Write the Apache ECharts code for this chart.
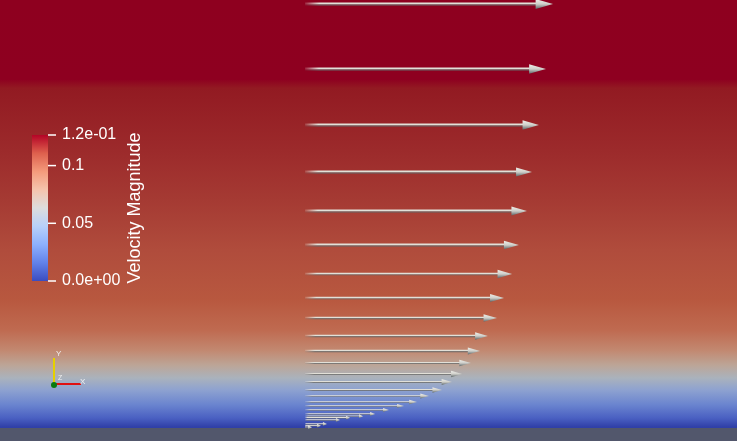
<!DOCTYPE html>
<html>
<head>
<meta charset="utf-8">
<script src="https://cdn.jsdelivr.net/npm/echarts@6/dist/echarts.min.js"></script>
<style>html,body{margin:0;padding:0;background:#8e0020;}#c{width:737px;height:441px;}</style>
</head>
<body>
<div id="c"></div>
<script>
// Height above the wall (px-units of the scene) of each velocity glyph
const heights = [424, 359, 303, 256, 217, 183, 154, 130, 110, 92, 77, 65, 54, 46, 38, 32, 26, 22, 18, 14, 11.7, 10.3, 8, 4, 2.3, 0.7];
// Velocity magnitude of each glyph (arrow length)
const speeds = [0.1200, 0.1166, 0.1132, 0.1098, 0.1074, 0.1035, 0.1002, 0.0963, 0.0929, 0.0885, 0.0847, 0.0803, 0.0760, 0.0711, 0.0663, 0.0600, 0.0542, 0.0479, 0.0406, 0.0339, 0.0281, 0.0218, 0.0169, 0.0106, 0.0077, 0.0034];
// Colour-bar ticks
const barTickValues = [0, 0.05, 0.1, 0.1265];
const barTickLabels = ['0.0e+00', '0.05', '0.1', '1.2e-01'];
const barTitle = 'Velocity Magnitude';

const FONT = 'Liberation Sans, Arial, sans-serif';
const chart = echarts.init(document.getElementById('c'), null, {renderer: 'canvas'});

const bgGrad = new echarts.graphic.LinearGradient(0, 0, 0, 1, [
  {offset: 0.000, color: '#8e001f'},
  {offset: 0.180, color: '#8e0020'},
  {offset: 0.200, color: '#921a22'},
  {offset: 0.340, color: '#9c2a2b'},
  {offset: 0.453, color: '#a53a33'},
  {offset: 0.567, color: '#b04c3c'},
  {offset: 0.680, color: '#b8583f'},
  {offset: 0.748, color: '#bf6a50'},
  {offset: 0.794, color: '#c28870'},
  {offset: 0.828, color: '#bca597'},
  {offset: 0.857, color: '#aab2bc'},
  {offset: 0.884, color: '#8ea2d0'},
  {offset: 0.918, color: '#6a84cf'},
  {offset: 0.948, color: '#4a60c2'},
  {offset: 0.968, color: '#3040a8'},
  {offset: 1.000, color: '#3040a8'}
]);

const coolwarm = new echarts.graphic.LinearGradient(0, 1, 0, 0, [
  {offset: 0.0, color: 'rgb(59,76,192)'},
  {offset: 0.125, color: 'rgb(98,130,234)'},
  {offset: 0.25, color: 'rgb(141,176,254)'},
  {offset: 0.375, color: 'rgb(184,208,249)'},
  {offset: 0.5, color: 'rgb(221,221,221)'},
  {offset: 0.625, color: 'rgb(245,196,173)'},
  {offset: 0.75, color: 'rgb(244,154,123)'},
  {offset: 0.875, color: 'rgb(222,96,77)'},
  {offset: 1.0, color: 'rgb(180,4,38)'}
]);

const data = speeds.map((v, i) => [v, heights[i]]);

function fade(c0, c1) {
  return new echarts.graphic.LinearGradient(0, 0, 1, 0, [
    {offset: 0, color: c0},
    {offset: 0.06, color: c1},
    {offset: 1, color: c1}
  ]);
}

function renderArrow(params, api) {
  const v = api.value(0), h = api.value(1);
  const p0 = api.coord([0, h]);
  const p1 = api.coord([v, h]);
  const L = p1[0] - p0[0];
  const headLen = Math.max(4, L * 0.07);
  const headHalf = Math.max(2, L * 0.02);
  const shaftH = Math.max(1.5, L * 0.013);
  const y = p0[1];
  const sw = Math.max(0, L - headLen * 0.6);
  return {
    type: 'group',
    children: [
      {
        type: 'rect',
        shape: {x: p0[0], y: y - shaftH / 2, width: sw, height: shaftH * 0.65},
        style: {fill: fade('rgba(236,235,228,0.15)', 'rgba(226,224,216,1)')}
      },
      {
        type: 'rect',
        shape: {x: p0[0], y: y - shaftH / 2 + shaftH * 0.65, width: sw, height: shaftH * 0.35},
        style: {fill: fade('rgba(110,112,112,0.15)', 'rgba(100,102,102,1)')}
      },
      {
        type: 'polygon',
        shape: {points: [[p1[0] - headLen, y - headHalf], [p1[0], y], [p1[0] - headLen, y + headHalf]]},
        style: {fill: new echarts.graphic.LinearGradient(0, 0, 0, 1, [
          {offset: 0, color: '#eeeee8'},
          {offset: 0.5, color: '#cfcfca'},
          {offset: 1, color: '#5c6668'}
        ])}
      }
    ]
  };
}

function renderBarTick(params, api) {
  const p = api.coord([1, api.value(0)]);
  return {
    type: 'line',
    shape: {x1: p[0], y1: p[1], x2: p[0] + 8, y2: p[1]},
    style: {stroke: '#ffffff', lineWidth: 1.5}
  };
}

const option = {
  animation: false,
  graphic: [
    {type: 'rect', z: -10, silent: true, shape: {x: 0, y: 0, width: 737, height: 441}, style: {fill: bgGrad}},
    {type: 'rect', z: -9, silent: true, shape: {x: 0, y: 428, width: 737, height: 13}, style: {fill: '#52576c'}},
    // orientation triad
    {type: 'line', z: 5, shape: {x1: 54, y1: 384, x2: 54, y2: 358}, style: {stroke: '#e6d000', lineWidth: 2}},
    {type: 'line', z: 5, shape: {x1: 54, y1: 384, x2: 81, y2: 384}, style: {stroke: '#e01010', lineWidth: 2}},
    {type: 'circle', z: 6, shape: {cx: 54, cy: 385, r: 3}, style: {fill: '#0a7a10'}},
    {type: 'text', z: 6, style: {x: 56, y: 350, text: 'Y', fill: '#f0f0f0', font: '8px ' + FONT}},
    {type: 'text', z: 6, style: {x: 80, y: 378, text: 'X', fill: '#f0f0f0', font: '8px ' + FONT}},
    {type: 'text', z: 6, style: {x: 58, y: 375, text: 'Z', fill: '#f0f0f0', font: '7px ' + FONT}}
  ],
  grid: [
    {left: 305, top: 0, width: 248, bottom: 13},
    {left: 32, top: 135, width: 16, height: 146, show: true, backgroundColor: coolwarm, borderWidth: 0}
  ],
  xAxis: [
    {gridIndex: 0, type: 'value', min: 0, max: 0.12, show: false},
    {gridIndex: 1, type: 'value', min: 0, max: 1, show: false}
  ],
  yAxis: [
    {gridIndex: 0, type: 'value', min: 0, max: 428, show: false},
    {
      gridIndex: 1, type: 'value', min: 0, max: 0.1265, position: 'right',
      axisLine: {show: false},
      splitLine: {show: false},
      axisTick: {show: false},
      axisLabel: {
        show: true, margin: 14, color: '#ffffff', fontSize: 16, fontFamily: FONT,
        customValues: barTickValues,
        formatter: (val) => {
          const i = barTickValues.findIndex(t => Math.abs(t - val) < 1e-9);
          return i >= 0 ? barTickLabels[i] : '';
        }
      },
      name: barTitle, nameLocation: 'middle', nameRotate: 90, nameGap: 78,
      nameTextStyle: {color: '#ffffff', fontSize: 18, fontFamily: FONT}
    }
  ],
  series: [
    {
      type: 'custom', xAxisIndex: 0, yAxisIndex: 0, z: 3,
      renderItem: renderArrow, data: data, silent: true, clip: false
    },
    {
      type: 'custom', xAxisIndex: 1, yAxisIndex: 1, z: 4,
      renderItem: renderBarTick, data: barTickValues.map(v => [v]),
      encode: {y: 0}, silent: true, clip: false
    }
  ]
};
chart.setOption(option);
</script>
</body>
</html>
